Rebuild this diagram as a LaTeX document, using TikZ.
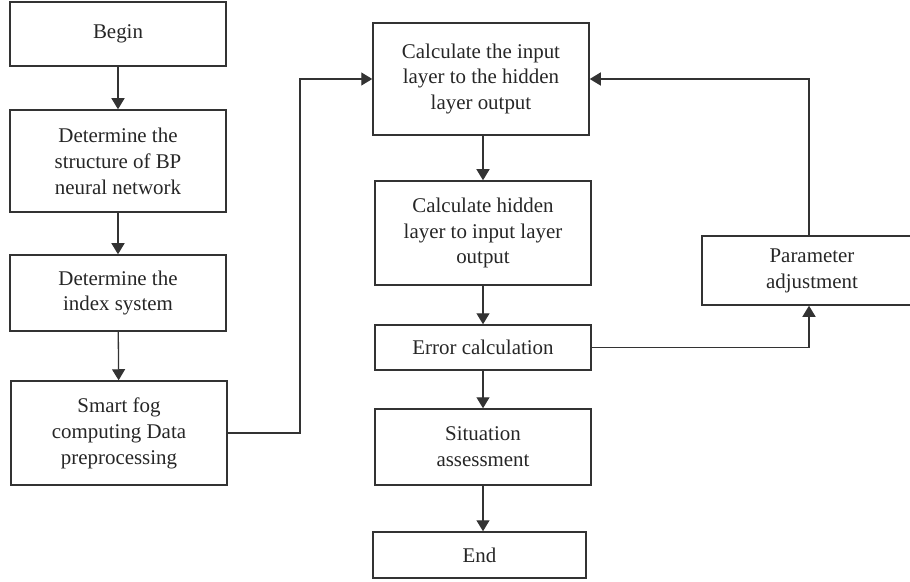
\documentclass[tikz,border=0pt]{standalone}
\usepackage{fontspec}
\setmainfont{Liberation Serif}
\usepackage{xcolor}
\definecolor{linegray}{HTML}{333333}
\usetikzlibrary{arrows.meta,positioning}

\begin{document}
\begin{tikzpicture}[x=1bp,y=-1bp,
 stepbox/.style={rectangle,draw=linegray,line width=1.5bp,align=center,
   minimum width=216bp,inner sep=0pt,
   font=\fontsize{21}{26}\selectfont,text=black!85},
 flow/.style={draw=linegray,line width=1.3bp,
   -{Triangle[length=11bp,width=13bp]}}]
 \useasboundingbox (0,0) rectangle (910,582);

 % left column
 \node[stepbox,minimum height=64bp] (begin) at (118,34) {Begin};
 \node[stepbox,minimum height=102bp] (struct) at (118,161)
   {Determine the\\structure of BP\\neural network};
 \node[stepbox,minimum height=76bp] (index) at (118,293)
   {Determine the\\index system};
 \node[stepbox,minimum height=104bp] (fog) at (119,433)
   {Smart fog\\computing Data\\preprocessing};

 % middle column
 \node[stepbox,minimum height=112bp] (calcin) at (481,79)
   {Calculate the input\\layer to the hidden\\layer output};
 \node[stepbox,minimum height=104bp] (calchid) at (483,233)
   {Calculate hidden\\layer to input layer\\output};
 \node[stepbox,minimum height=45bp] (error) at (483,347.5) {Error calculation};
 \node[stepbox,minimum height=76bp] (situ) at (483,447)
   {Situation\\assessment};
 \node[stepbox,minimum height=46bp,minimum width=213bp] (end) at (479.5,555) {End};

 % right
 \node[stepbox,minimum height=69bp,minimum width=220bp] (param) at (812,270.5)
   {Parameter\\adjustment};

 \coordinate (turn) at (300,433);

 \draw[flow] (begin) -- (struct);
 \draw[flow] (struct) -- (index);
 \draw[flow] (index) -- (fog);
 \draw[flow] (fog.east) -- (turn) |- (calcin.west);
 \draw[flow] (calcin.south -| calchid) -- (calchid);
 \draw[flow] (calchid) -- (error);
 \draw[flow] (error) -- (situ);
 \draw[flow] (situ.south) -- (situ.south |- end.north);
 \draw[flow] (error.east) -| ([xshift=-3bp]param.south);
 \draw[flow] ([xshift=-3bp]param.north) |- (calcin.east);
\end{tikzpicture}
\end{document}
